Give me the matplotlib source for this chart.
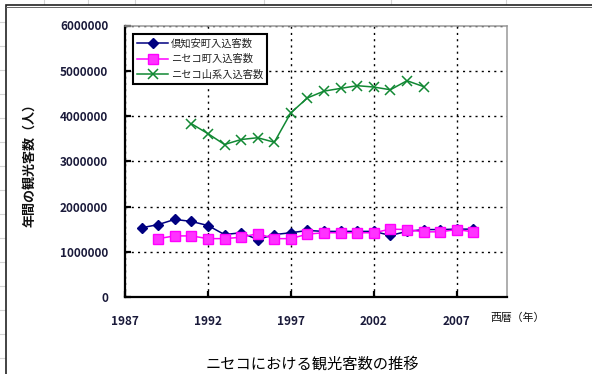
import matplotlib
matplotlib.use("Agg")
import matplotlib.pyplot as plt
from matplotlib.lines import Line2D
from matplotlib.patches import Rectangle

plt.rcParams['font.family'] = ['Noto Sans CJK JP', 'DejaVu Sans']

# --- data -------------------------------------------------------------
kutchan_years = [1988, 1989, 1990, 1991, 1992, 1993, 1994, 1995, 1996, 1997, 1998,
                 1999, 2000, 2001, 2002, 2003, 2004, 2005, 2006, 2007, 2008]
kutchan = [1530000, 1600000, 1715000, 1670000, 1580000, 1380000, 1420000, 1270000,
           1380000, 1420000, 1470000, 1450000, 1450000, 1450000, 1450000, 1360000,
           1450000, 1490000, 1490000, 1500000, 1500000]

town_years = [1989, 1990, 1991, 1992, 1993, 1994, 1995, 1996, 1997, 1998,
              1999, 2000, 2001, 2002, 2003, 2004, 2005, 2006, 2007, 2008]
niseko_town = [1290000, 1350000, 1350000, 1290000, 1290000, 1320000, 1400000, 1290000,
               1290000, 1390000, 1420000, 1420000, 1420000, 1420000, 1500000, 1490000,
               1440000, 1440000, 1490000, 1440000]

area_years = [1991, 1992, 1993, 1994, 1995, 1996, 1997, 1998,
              1999, 2000, 2001, 2002, 2003, 2004, 2005]
niseko_area = [3830000, 3610000, 3370000, 3480000, 3520000, 3420000, 4070000, 4400000,
               4550000, 4610000, 4670000, 4640000, 4580000, 4780000, 4650000]

series_names = ["倶知安町入込客数", "ニセコ町入込客数", "ニセコ山系入込客数"]
x_ticks = [1987, 1992, 1997, 2002, 2007]
y_ticks = [0, 1000000, 2000000, 3000000, 4000000, 5000000, 6000000]

W, H = 592, 374
fig = plt.figure(figsize=(W / 100, H / 100), dpi=100)
fig.patch.set_facecolor("white")


def fx(px):
    return px / W


def fy(py):
    return 1 - py / H


# spreadsheet cell lines behind the chart object
grid_c = "#d4d4d4"
for yy in range(22, H, 24):
    fig.add_artist(Line2D([0, fx(5)], [fy(yy), fy(yy)], color=grid_c, lw=0.8, zorder=-3))
for xx in [44, 88, 135, 264, 391, 506]:
    fig.add_artist(Line2D([fx(xx), fx(xx)], [1, fy(5)], color=grid_c, lw=0.8, zorder=-3))

# chart object frame
fig.add_artist(Rectangle((fx(5.5), -0.05), 1.2, fy(5.5) + 0.05, facecolor="white",
                         edgecolor="#222222", lw=1.2, transform=fig.transFigure, zorder=-2))
fig.add_artist(Line2D([fx(5.5), 1], [fy(6.8), fy(6.8)], color="#666666", lw=0.7, zorder=-1))

# --- plot area ----------------------------------------------------------
left, right, top, bottom = 125, 506.5, 25.5, 297
ax = fig.add_axes([fx(left), fy(bottom), fx(right) - fx(left), fy(top) - fy(bottom)])
ax.set_facecolor("white")
ax.set_zorder(2)

ax.plot(kutchan_years, kutchan, color="#000080", lw=1.1, marker="D",
        markersize=5.5, markerfacecolor="#000080", markeredgecolor="#000080",
        label=series_names[0], zorder=3)
ax.plot(town_years, niseko_town, color="#ff00ff", lw=1.1, marker="s",
        markersize=6.5, markerfacecolor="#ff33ff", markeredgecolor="#ff00ff",
        label=series_names[1], zorder=4)
ax.plot(area_years, niseko_area, color="#118833", lw=1.1, marker="x",
        markersize=7, markeredgewidth=1.1, label=series_names[2], zorder=3)

ax.set_xlim(1987, 2010)
ax.set_ylim(0, 6000000)
ax.set_xticks(x_ticks)
ax.set_yticks(y_ticks)
ax.set_yticklabels([str(v) for v in y_ticks])
ax.set_xticklabels([str(v) for v in x_ticks])

ax.grid(True, color="black", lw=1.0, linestyle=(0, (1.5, 3.0)))
ax.set_axisbelow(True)

for s in ["left", "bottom"]:
    ax.spines[s].set_color("black")
    ax.spines[s].set_linewidth(1.6)
for s in ["top", "right"]:
    ax.spines[s].set_color("#999999")
    ax.spines[s].set_linewidth(1.1)

ax.tick_params(axis="both", direction="in", length=4, width=1.6, color="black",
               labelsize=8.5, labelcolor="#1a1a3a")
ax.tick_params(axis="y", pad=12)
ax.tick_params(axis="x", pad=13)
for lab in ax.get_xticklabels() + ax.get_yticklabels():
    lab.set_fontweight("bold")

leg = ax.legend(loc="upper left",
                bbox_to_anchor=((133 - left) / (right - left), 1 - (34 - top) / (bottom - top)),
                bbox_transform=ax.transAxes, fontsize=7.4, frameon=True, fancybox=False,
                edgecolor="black", handlelength=3.0, borderaxespad=0, labelspacing=0.55,
                borderpad=0.4, handletextpad=0.3)
leg.get_frame().set_linewidth(1.5)
leg.get_frame().set_facecolor("white")
leg.get_frame().set_alpha(1)
for t in leg.get_texts():
    t.set_color("#222222")

# axis titles
fig.text(fx(29), fy(162), "年間の観光客数（人）", rotation=90, ha="center", va="center",
         fontsize=9.4, color="#111111", fontweight="bold")
fig.text(fx(518), fy(318), "西暦（年）", ha="center", va="center", fontsize=7.8,
         color="#111111")
fig.text(fx(312), fy(364), "ニセコにおける観光客数の推移", ha="center", va="center",
         fontsize=11, color="#000000")

fig.savefig("out.png", dpi=100, facecolor="white")
